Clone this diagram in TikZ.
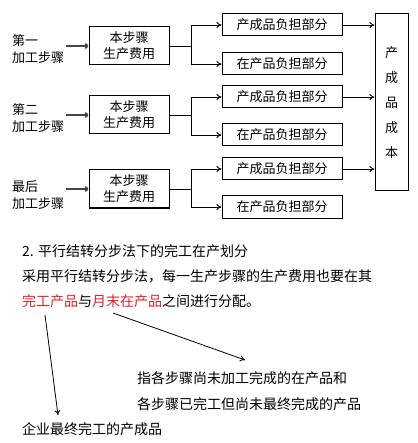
\documentclass[tikz,border=0pt]{standalone}
\usepackage{fontspec}
\setmainfont{Noto Sans CJK SC}
\usetikzlibrary{arrows.meta}
\definecolor{hl}{RGB}{232,30,36}
\definecolor{thk}{RGB}{70,70,70}
\begin{document}
\begin{tikzpicture}[x=1pt,y=-1pt,
  box/.style={draw=black,line width=1pt,inner sep=0pt,font=\fontsize{13}{16}\selectfont},
  stepbox/.style={box,minimum width=80pt,minimum height=38pt,align=center},
  partbox/.style={box,minimum width=120pt,minimum height=22pt},
  lbl/.style={anchor=west,inner sep=0pt,align=left,font=\fontsize{13}{17}\selectfont},
  txt/.style={anchor=west,inner sep=0pt,font=\fontsize{14}{16}\selectfont},
  conn/.style={line width=0.8pt,black},
  arr/.style={conn,-{To[length=5pt,width=6pt]}},
  fat/.style={line width=2pt,thk,-{To[length=4pt,width=6pt]}}
]
\useasboundingbox (0,0) rectangle (417,443);
% left labels
\node[lbl] (l1) at (12,49) {第一\\加工步骤};
\node[lbl] (l2) at (12,118) {第二\\加工步骤};
\node[lbl] (l3) at (12,195) {最后\\加工步骤};
% step boxes
\node[stepbox] (a1) at (129,46) {本步骤\\生产费用};
\node[stepbox] (a2) at (129,115) {本步骤\\生产费用};
\node[stepbox] (a3) at (129,189) {本步骤\\生产费用};
% part boxes
\node[partbox] (p1) at (282,25) {产成品负担部分};
\node[partbox] (z1) at (282,64) {在产品负担部分};
\node[partbox] (p2) at (282,97) {产成品负担部分};
\node[partbox] (z2) at (282,135) {在产品负担部分};
\node[partbox] (p3) at (282,169) {产成品负担部分};
\node[partbox] (z3) at (282,207) {在产品负担部分};
% big box
\node[box,minimum width=33pt,minimum height=177pt,align=center,font=\fontsize{13}{25}\selectfont] (C) at (391.5,102.5) {产\\成\\品\\成\\本};
% label arrows
\foreach \i in {1,2,3}{
  \draw[fat] ([xshift=2pt]l\i.east |- a\i.west) -- (a\i.west);
}
% brackets
\foreach \i in {1,2,3}{
  \coordinate (jt\i) at (191,0 |- p\i.west);
  \coordinate (jb\i) at (191,0 |- z\i.west);
  \coordinate (jm\i) at (191,0 |- a\i.east);
  \draw[conn] (a\i.east) -- (jm\i);
  \draw[conn] (jt\i) -- (jb\i);
  \draw[arr] (jt\i) -- (p\i.west);
  \draw[arr] (jb\i) -- (z\i.west);
  \draw[arr] (p\i.east) -- (p\i.east -| C.west);
}
% bottom text
\node[txt] (t1) at (22,251) {2. 平行结转分步法下的完工在产划分};
\node[txt] (t2) at (22,276) {采用平行结转分步法，每一生产步骤的生产费用也要在其};
\node[txt] (t3) at (22,301) {\textcolor{hl}{完工产品}与\textcolor{hl}{月末在产品}之间进行分配。};
\node[txt] (t4) at (137,378) {指各步骤尚未加工完成的在产品和};
\node[txt] (t5) at (137,404) {各步骤已完工但尚未最终完成的产品};
\node[txt] (t6) at (22,429) {企业最终完工的产成品};
\coordinate (s1) at (45,315);
\coordinate (e1) at (58,415);
\coordinate (s2) at (113,313);
\coordinate (e2) at (245,360);
\draw[arr] (s1) -- (e1);
\draw[arr] (s2) -- (e2);
\end{tikzpicture}
\end{document}
